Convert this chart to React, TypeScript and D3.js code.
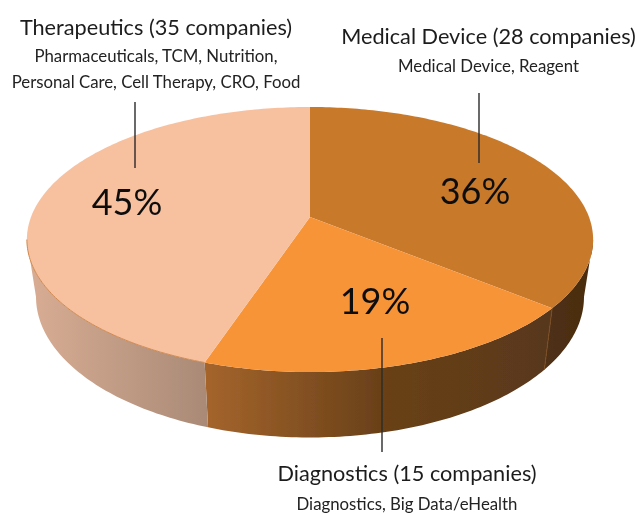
import * as d3 from "d3";
import { useEffect, useRef } from "react";

const categories = ["Medical Device", "Diagnostics", "Therapeutics"];
const shares = [36, 19, 45];
const companies = [28, 15, 35];
const subLabels = [
  ["Medical Device, Reagent"],
  ["Diagnostics, Big Data/eHealth"],
  ["Pharmaceuticals, TCM, Nutrition,", "Personal Care, Cell Therapy, CRO, Food"],
];
const topColors = ["#c8792b", "#f79438", "#f7c1a0"];
const sideStops = [
  ["#4f3013", "#4a2c10"],
  ["#a5652c", "#6a4119", "#58371a"],
  ["#d9ad94", "#a98a76"],
];

const width = 638;
const height = 514;

// pie is seen in perspective, so the hub sits above the middle of the ellipse
const cx = 310;
const persp = 0.17;
const topDisk = { hubY: 217, rx: 279, ry: 128.7 };
const lowDisk = { hubY: 273, rx: 270, ry: 136.5 };

const project = (a: number, disk: { hubY: number; rx: number; ry: number }) => {
  const u = Math.sin(a);
  const v = Math.cos(a);
  const w = 1 + persp * v;
  return [cx + (disk.rx * u) / w, disk.hubY - (disk.ry * v) / w] as [number, number];
};

const sweep = (a0: number, a1: number) => {
  const n = Math.max(2, Math.ceil((a1 - a0) * 60));
  return d3.range(n + 1).map((i) => a0 + ((a1 - a0) * i) / n);
};

export default function App() {
  const ref = useRef<SVGSVGElement>(null);

  useEffect(() => {
    if (!ref.current) return;
    const svg = d3.select(ref.current);
    svg.selectAll("*").remove();

    // wedges follow the company counts, the printed labels are the rounded shares
    const arcs = d3
      .pie<number>()
      .sort(null)
      .value((d) => d)(companies);

    const line = d3.line();
    const defs = svg.append("defs");

    defs
      .append("filter")
      .attr("id", "soft")
      .append("feGaussianBlur")
      .attr("stdDeviation", 0.45);

    const g = svg.append("g").attr("filter", "url(#soft)");

    // -----------------------------
    // SIDE WALLS
    // -----------------------------
    // widest points of the projected disk, the wall only shows between them
    const frontStart = Math.PI / 2 + Math.asin(persp);
    const frontEnd = (Math.PI * 3) / 2 - Math.asin(persp);

    arcs.forEach((d, i) => {
      const a0 = Math.max(d.startAngle, frontStart);
      const a1 = Math.min(d.endAngle, frontEnd);
      if (a1 <= a0) return;
      const angles = sweep(a0, a1);
      const rim = angles.map((a) => project(a, topDisk));
      const low = angles.map((a) => project(a, lowDisk)).reverse();
      const xs = rim.concat(low).map((p) => p[0]);

      const grad = defs
        .append("linearGradient")
        .attr("id", `side${i}`)
        .attr("gradientUnits", "userSpaceOnUse")
        .attr("x1", d3.min(xs)!)
        .attr("x2", d3.max(xs)!)
        .attr("y1", 0)
        .attr("y2", 0);
      sideStops[i].forEach((c, j) => {
        grad
          .append("stop")
          .attr("offset", j / (sideStops[i].length - 1))
          .attr("stop-color", c);
      });

      g.append("path")
        .attr("d", line(rim.concat(low))! + "Z")
        .attr("fill", `url(#side${i})`);
    });

    // seam on the wall between Medical Device and Diagnostics
    const seamAngle = arcs[0].endAngle;
    g.append("path")
      .attr("d", line([project(seamAngle, topDisk), project(seamAngle, lowDisk)])!)
      .attr("stroke", "#7a4d22")
      .attr("stroke-width", 1)
      .attr("fill", "none");

    // -----------------------------
    // TOP FACE
    // -----------------------------
    arcs.forEach((d, i) => {
      const pts = sweep(d.startAngle, d.endAngle).map((a) => project(a, topDisk));
      g.append("path")
        .attr("d", line([[cx, topDisk.hubY], ...pts])! + "Z")
        .attr("fill", topColors[i]);
    });

    // thin orange rim along the front of the light wedge
    g.append("path")
      .attr(
        "d",
        line(sweep(arcs[2].startAngle, frontEnd).map((a) => project(a, topDisk)))!
      )
      .attr("stroke", "#d08a52")
      .attr("stroke-width", 1)
      .attr("fill", "none");

    // -----------------------------
    // LEADERS + LABELS
    // -----------------------------
    const leaders = [
      { x: 479, y1: 93, y2: 163 },
      { x: 382, y1: 338, y2: 452 },
      { x: 135, y1: 102, y2: 168 },
    ];
    leaders.forEach((l) => {
      g.append("line")
        .attr("x1", l.x)
        .attr("x2", l.x)
        .attr("y1", l.y1)
        .attr("y2", l.y2)
        .attr("stroke", "#2a2a2a")
        .attr("stroke-width", 1.4);
    });

    const font = "Lato, 'Open Sans', sans-serif";
    const pctPos = [
      [475, 204],
      [375, 314],
      [127, 215],
    ];
    const titlePos = [
      [488.5, 44],
      [407, 481],
      [156, 35],
    ];
    const subPos = [
      [488.5, 72],
      [407, 510],
      [156, 62],
    ];

    shares.forEach((s, i) => {
      g.append("text")
        .attr("x", pctPos[i][0])
        .attr("y", pctPos[i][1])
        .attr("text-anchor", "middle")
        .style("font-family", font)
        .style("font-size", "36px")
        .style("fill", "#111")
        .text(`${s}%`);

      g.append("text")
        .attr("x", titlePos[i][0])
        .attr("y", titlePos[i][1])
        .attr("text-anchor", "middle")
        .style("font-family", font)
        .style("font-size", "21.7px")
        .style("fill", "#1c1c1c")
        .text(`${categories[i]} (${companies[i]} companies)`);

      subLabels[i].forEach((t, j) => {
        g.append("text")
          .attr("x", subPos[i][0])
          .attr("y", subPos[i][1] + j * 26)
          .attr("text-anchor", "middle")
          .style("font-family", font)
          .style("font-size", "16.8px")
          .style("fill", "#222")
          .text(t);
      });
    });
  }, []);

  return (
    <svg
      ref={ref}
      width={width}
      height={height}
      style={{ position: "absolute", left: 0, top: 0, background: "#fff" }}
    />
  );
}
